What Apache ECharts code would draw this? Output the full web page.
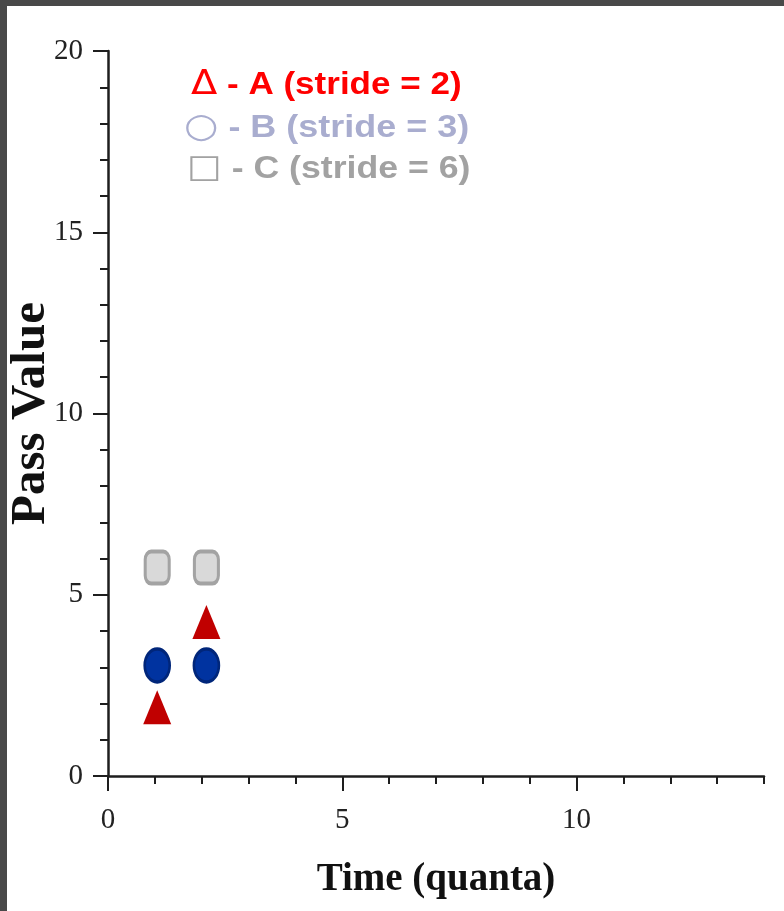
<!DOCTYPE html>
<html>
<head>
<meta charset="utf-8">
<script src="https://cdn.jsdelivr.net/npm/echarts@6/dist/echarts.min.js"></script>
<style>
  html, body { margin: 0; padding: 0; background: #494949; width: 784px; height: 911px; overflow: hidden; }
  #chart { position: absolute; left: 7px; top: 6px; width: 777px; height: 905px; background: #ffffff; }
</style>
</head>
<body>
<div id="chart"></div>
<script>
// ---- data ----
var seriesA = [[1.05, 1.9], [2.1, 4.25]];   // A (stride = 2)
var seriesB = [[1.05, 3.05], [2.1, 3.05]];  // B (stride = 3)
var seriesC = [[1.05, 5.75], [2.1, 5.75]];  // C (stride = 6)
var xMajorTicks = [0, 5, 10];
var xMinorTicks = [0, 1, 2, 3, 4, 5, 6, 7, 8, 9, 10, 11, 12, 13, 14];
var yMajorTicks = [0, 5, 10, 15, 20];
var yMinorTicks = [0, 1, 2, 3, 4, 5, 6, 7, 8, 9, 10, 11, 12, 13, 14, 15, 16, 17, 18, 19, 20];
var legendLines = [
  { sym: '\u0394', text: ' - A (stride = 2)', color: '#ff0000' },
  { sym: '\u25CB', text: ' - B (stride = 3)', color: '#a9adcf' },
  { sym: '\u25A1', text: ' - C (stride = 6)', color: '#a2a2a2' }
];

var chart = echarts.init(document.getElementById('chart'), null, { renderer: 'canvas' });

var axisColor = '#1e1e1e';
var serif = '"Liberation Serif", "Times New Roman", serif';

var legendY = [82, 125, 167];
var legendX = [184, 177, 180];
var symSize = [34, 34, 32];
var textScale = [1.13, 1.16, 1.15];
var graphics = legendLines.map(function (l, i) {
  return {
    type: 'text',
    left: legendX[i],
    top: legendY[i] - 20,
    scaleX: textScale[i],
    style: {
      text: '{s|' + l.sym + '}{t|' + l.text + '}',
      rich: {
        s: { fontFamily: 'DejaVu Sans', fontSize: symSize[i], fontWeight: i === 0 ? 'normal' : 'bold', fill: l.color, verticalAlign: 'middle' },
        t: { fontFamily: '"Liberation Sans", Arial, sans-serif', fontSize: 31, fontWeight: 'bold', fill: l.color, verticalAlign: 'middle' }
      }
    }
  };
});

var option = {
  animation: false,
  backgroundColor: '#ffffff',
  grid: { left: 101, right: 20, top: 45, bottom: 135, containLabel: false, outerBoundsMode: 'none' },
  xAxis: [
    {
      type: 'value', min: 0, max: 14, position: 'bottom',
      name: 'Time (quanta)', nameLocation: 'middle', nameGap: 84, nameMoveOverlap: false,
      nameTextStyle: { fontFamily: serif, fontWeight: 'bold', fontSize: 39, color: '#111' },
      axisLine: { show: true, onZero: false, lineStyle: { color: axisColor, width: 2.5 } },
      axisTick: { show: true, customValues: xMinorTicks, length: 8, lineStyle: { color: axisColor, width: 2 } },
      axisLabel: { show: true, customValues: xMajorTicks, margin: 30, fontFamily: serif, fontSize: 29, color: '#222' },
      splitLine: { show: false }
    },
    {
      type: 'value', min: 0, max: 14, position: 'bottom',
      axisLine: { show: false, onZero: false },
      axisTick: { show: true, customValues: xMajorTicks, length: 15, lineStyle: { color: axisColor, width: 2 } },
      axisLabel: { show: false },
      splitLine: { show: false }
    }
  ],
  yAxis: [
    {
      type: 'value', min: 0, max: 20, position: 'left',
      name: 'Pass Value', nameLocation: 'middle', nameGap: 52, nameMoveOverlap: false,
      nameTextStyle: { fontFamily: serif, fontWeight: 'bold', fontSize: 49, color: '#111' },
      axisLine: { show: true, onZero: false, lineStyle: { color: axisColor, width: 2.5 } },
      axisTick: { show: true, customValues: yMinorTicks, length: 8, lineStyle: { color: axisColor, width: 2 } },
      axisLabel: { show: true, customValues: yMajorTicks, margin: 25, fontFamily: serif, fontSize: 29, color: '#222' },
      splitLine: { show: false }
    },
    {
      type: 'value', min: 0, max: 20, position: 'left',
      axisLine: { show: false, onZero: false },
      axisTick: { show: true, customValues: yMajorTicks, length: 15, lineStyle: { color: axisColor, width: 2 } },
      axisLabel: { show: false },
      splitLine: { show: false }
    }
  ],
  graphic: graphics,
  series: [
    {
      name: 'C (stride = 6)', type: 'scatter', data: seriesC,
      symbol: 'roundRect', symbolSize: [24, 32],
      itemStyle: { color: '#d9d9d9', borderColor: '#a3a3a3', borderWidth: 3.5, opacity: 1 }
    },
    {
      name: 'B (stride = 3)', type: 'scatter', data: seriesB,
      symbol: 'circle', symbolSize: [25, 33],
      itemStyle: { color: '#0033a0', borderColor: '#00267a', borderWidth: 3, opacity: 1 }
    },
    {
      name: 'A (stride = 2)', type: 'scatter', data: seriesA,
      symbol: 'triangle', symbolSize: [28, 34],
      itemStyle: { color: '#c00000', borderColor: '#c00000', borderWidth: 0, opacity: 1 }
    }
  ]
};

chart.setOption(option);
</script>
</body>
</html>
